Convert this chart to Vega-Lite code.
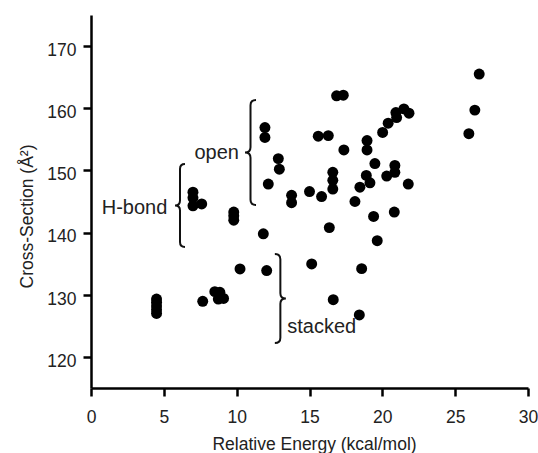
{
  "$schema": "https://vega.github.io/schema/vega-lite/v6.json",
  "autosize": {"type": "none"},
  "width": 437,
  "height": 373,
  "padding": {"left": 91, "top": 15, "right": 10, "bottom": 65},
  "background": "white",
  "config": {
    "view": {"stroke": null},
    "font": "Liberation Sans",
    "axis": {
      "grid": false,
      "domainColor": "#000",
      "tickColor": "#000",
      "domainWidth": 2.5,
      "tickWidth": 2.5,
      "tickSize": 8,
      "labelColor": "#222",
      "titleColor": "#222",
      "labelFont": "Liberation Sans",
      "titleFont": "Liberation Sans",
      "labelFontSize": 17.5,
      "titleFontSize": 17.5,
      "titleFontWeight": "normal",
      "labelFlush": false,
      "labelOverlap": false
    }
  },
  "datasets": {
    "pts": [
      {"x": 4.5, "y": 127.0}, {"x": 4.5, "y": 127.6}, {"x": 4.5, "y": 128.2}, {"x": 4.5, "y": 128.8}, {"x": 4.5, "y": 129.3},
      {"x": 7.67, "y": 128.95}, {"x": 8.5, "y": 130.5}, {"x": 8.85, "y": 130.4}, {"x": 8.74, "y": 129.3}, {"x": 9.1, "y": 129.4},
      {"x": 10.23, "y": 134.15},
      {"x": 7.0, "y": 146.5}, {"x": 7.0, "y": 145.6}, {"x": 7.0, "y": 144.3}, {"x": 7.6, "y": 144.6},
      {"x": 9.8, "y": 143.3}, {"x": 9.8, "y": 142.7}, {"x": 9.8, "y": 142.0},
      {"x": 11.83, "y": 139.8}, {"x": 12.06, "y": 133.9},
      {"x": 11.94, "y": 156.9}, {"x": 11.94, "y": 155.3},
      {"x": 12.86, "y": 151.9}, {"x": 12.93, "y": 150.2}, {"x": 12.17, "y": 147.8},
      {"x": 13.77, "y": 146.0}, {"x": 13.77, "y": 144.8},
      {"x": 15.0, "y": 146.6}, {"x": 15.83, "y": 145.8},
      {"x": 15.6, "y": 155.5}, {"x": 16.29, "y": 155.6},
      {"x": 16.86, "y": 162.0}, {"x": 17.32, "y": 162.1},
      {"x": 17.36, "y": 153.3},
      {"x": 16.6, "y": 149.7}, {"x": 16.6, "y": 148.4}, {"x": 16.6, "y": 147.0},
      {"x": 16.36, "y": 140.8}, {"x": 15.15, "y": 134.95},
      {"x": 16.63, "y": 129.2}, {"x": 18.42, "y": 126.75}, {"x": 18.58, "y": 134.2},
      {"x": 18.12, "y": 145.0}, {"x": 18.46, "y": 147.3}, {"x": 18.9, "y": 149.2}, {"x": 19.15, "y": 148.0},
      {"x": 18.95, "y": 154.8}, {"x": 18.95, "y": 153.3}, {"x": 19.49, "y": 151.1},
      {"x": 19.4, "y": 142.6}, {"x": 19.65, "y": 138.7}, {"x": 20.82, "y": 143.3},
      {"x": 20.3, "y": 149.1}, {"x": 20.86, "y": 150.8}, {"x": 20.86, "y": 149.7}, {"x": 21.78, "y": 147.8},
      {"x": 20.02, "y": 156.1}, {"x": 20.4, "y": 157.6}, {"x": 20.93, "y": 159.3}, {"x": 20.98, "y": 158.5},
      {"x": 21.48, "y": 159.9}, {"x": 21.83, "y": 159.2},
      {"x": 25.94, "y": 155.9}, {"x": 26.35, "y": 159.7}, {"x": 26.65, "y": 165.5}
    ],
    "braces": [
      {"name": "open", "x": 10.95, "y": 152.88},
      {"name": "H-bond", "x": 6.11, "y": 144.36},
      {"name": "stacked", "x": 13.0, "y": 129.4}
    ],
    "labels": [
      {"label": "open", "side": "right", "x": 10.16, "y": 151.8},
      {"label": "H-bond", "side": "right", "x": 5.24, "y": 143.0},
      {"label": "stacked", "side": "left", "x": 13.47, "y": 123.8}
    ]
  },
  "encoding": {
    "x": {
      "field": "x", "type": "quantitative",
      "scale": {"domain": [0, 30], "nice": false, "zero": false},
      "axis": {
        "title": "Relative Energy (kcal/mol)",
        "values": [0, 5, 10, 15, 20, 25, 30],
        "labelBaseline": "alphabetic",
        "labelPadding": 26,
        "titleBaseline": "alphabetic",
        "titleAlign": "center",
        "titleX": 223,
        "titleY": 61
      }
    },
    "y": {
      "field": "y", "type": "quantitative",
      "scale": {"domain": [115, 175], "nice": false, "zero": false},
      "axis": {
        "title": "Cross-Section (Å²)",
        "values": [120, 130, 140, 150, 160, 170],
        "labelBaseline": "alphabetic",
        "labelOffset": 9.3,
        "labelPadding": 7,
        "titleBaseline": "alphabetic",
        "titleAlign": "center",
        "titleAngle": -90,
        "titleX": -59,
        "titleY": 201
      }
    }
  },
  "layer": [
    {
      "data": {"name": "pts"},
      "mark": {"type": "circle", "size": 120, "color": "#000", "opacity": 1}
    },
    {
      "data": {"name": "braces"},
      "transform": [{"filter": "datum.name === 'open'"}],
      "mark": {"type": "point", "filled": false, "opacity": 1, "stroke": "#111", "strokeWidth": 2, "size": 11025,
        "shape": "M0.105,-1 Q0,-1 0,-0.9 L0,-0.1 Q0,0 -0.105,0 Q0,0 0,0.1 L0,0.9 Q0,1 0.105,1"}
    },
    {
      "data": {"name": "braces"},
      "transform": [{"filter": "datum.name === 'H-bond'"}],
      "mark": {"type": "point", "filled": false, "opacity": 1, "stroke": "#111", "strokeWidth": 2, "size": 6889,
        "shape": "M0.12,-1 Q0,-1 0,-0.88 L0,-0.12 Q0,0 -0.12,0 Q0,0 0,0.12 L0,0.88 Q0,1 0.12,1"}
    },
    {
      "data": {"name": "braces"},
      "transform": [{"filter": "datum.name === 'stacked'"}],
      "mark": {"type": "point", "filled": false, "opacity": 1, "stroke": "#111", "strokeWidth": 2, "size": 7921,
        "shape": "M-0.124,-1 Q0,-1 0,-0.88 L0,-0.12 Q0,0 0.124,0 Q0,0 0,0.12 L0,0.88 Q0,1 -0.124,1"}
    },
    {
      "data": {"name": "labels"},
      "transform": [{"filter": "datum.side === 'right'"}],
      "mark": {"type": "text", "align": "right", "baseline": "alphabetic", "fontSize": 20, "font": "Liberation Sans", "color": "#222"},
      "encoding": {"text": {"field": "label"}}
    },
    {
      "data": {"name": "labels"},
      "transform": [{"filter": "datum.side === 'left'"}],
      "mark": {"type": "text", "align": "left", "baseline": "alphabetic", "fontSize": 20, "font": "Liberation Sans", "color": "#222"},
      "encoding": {"text": {"field": "label"}}
    }
  ]
}
